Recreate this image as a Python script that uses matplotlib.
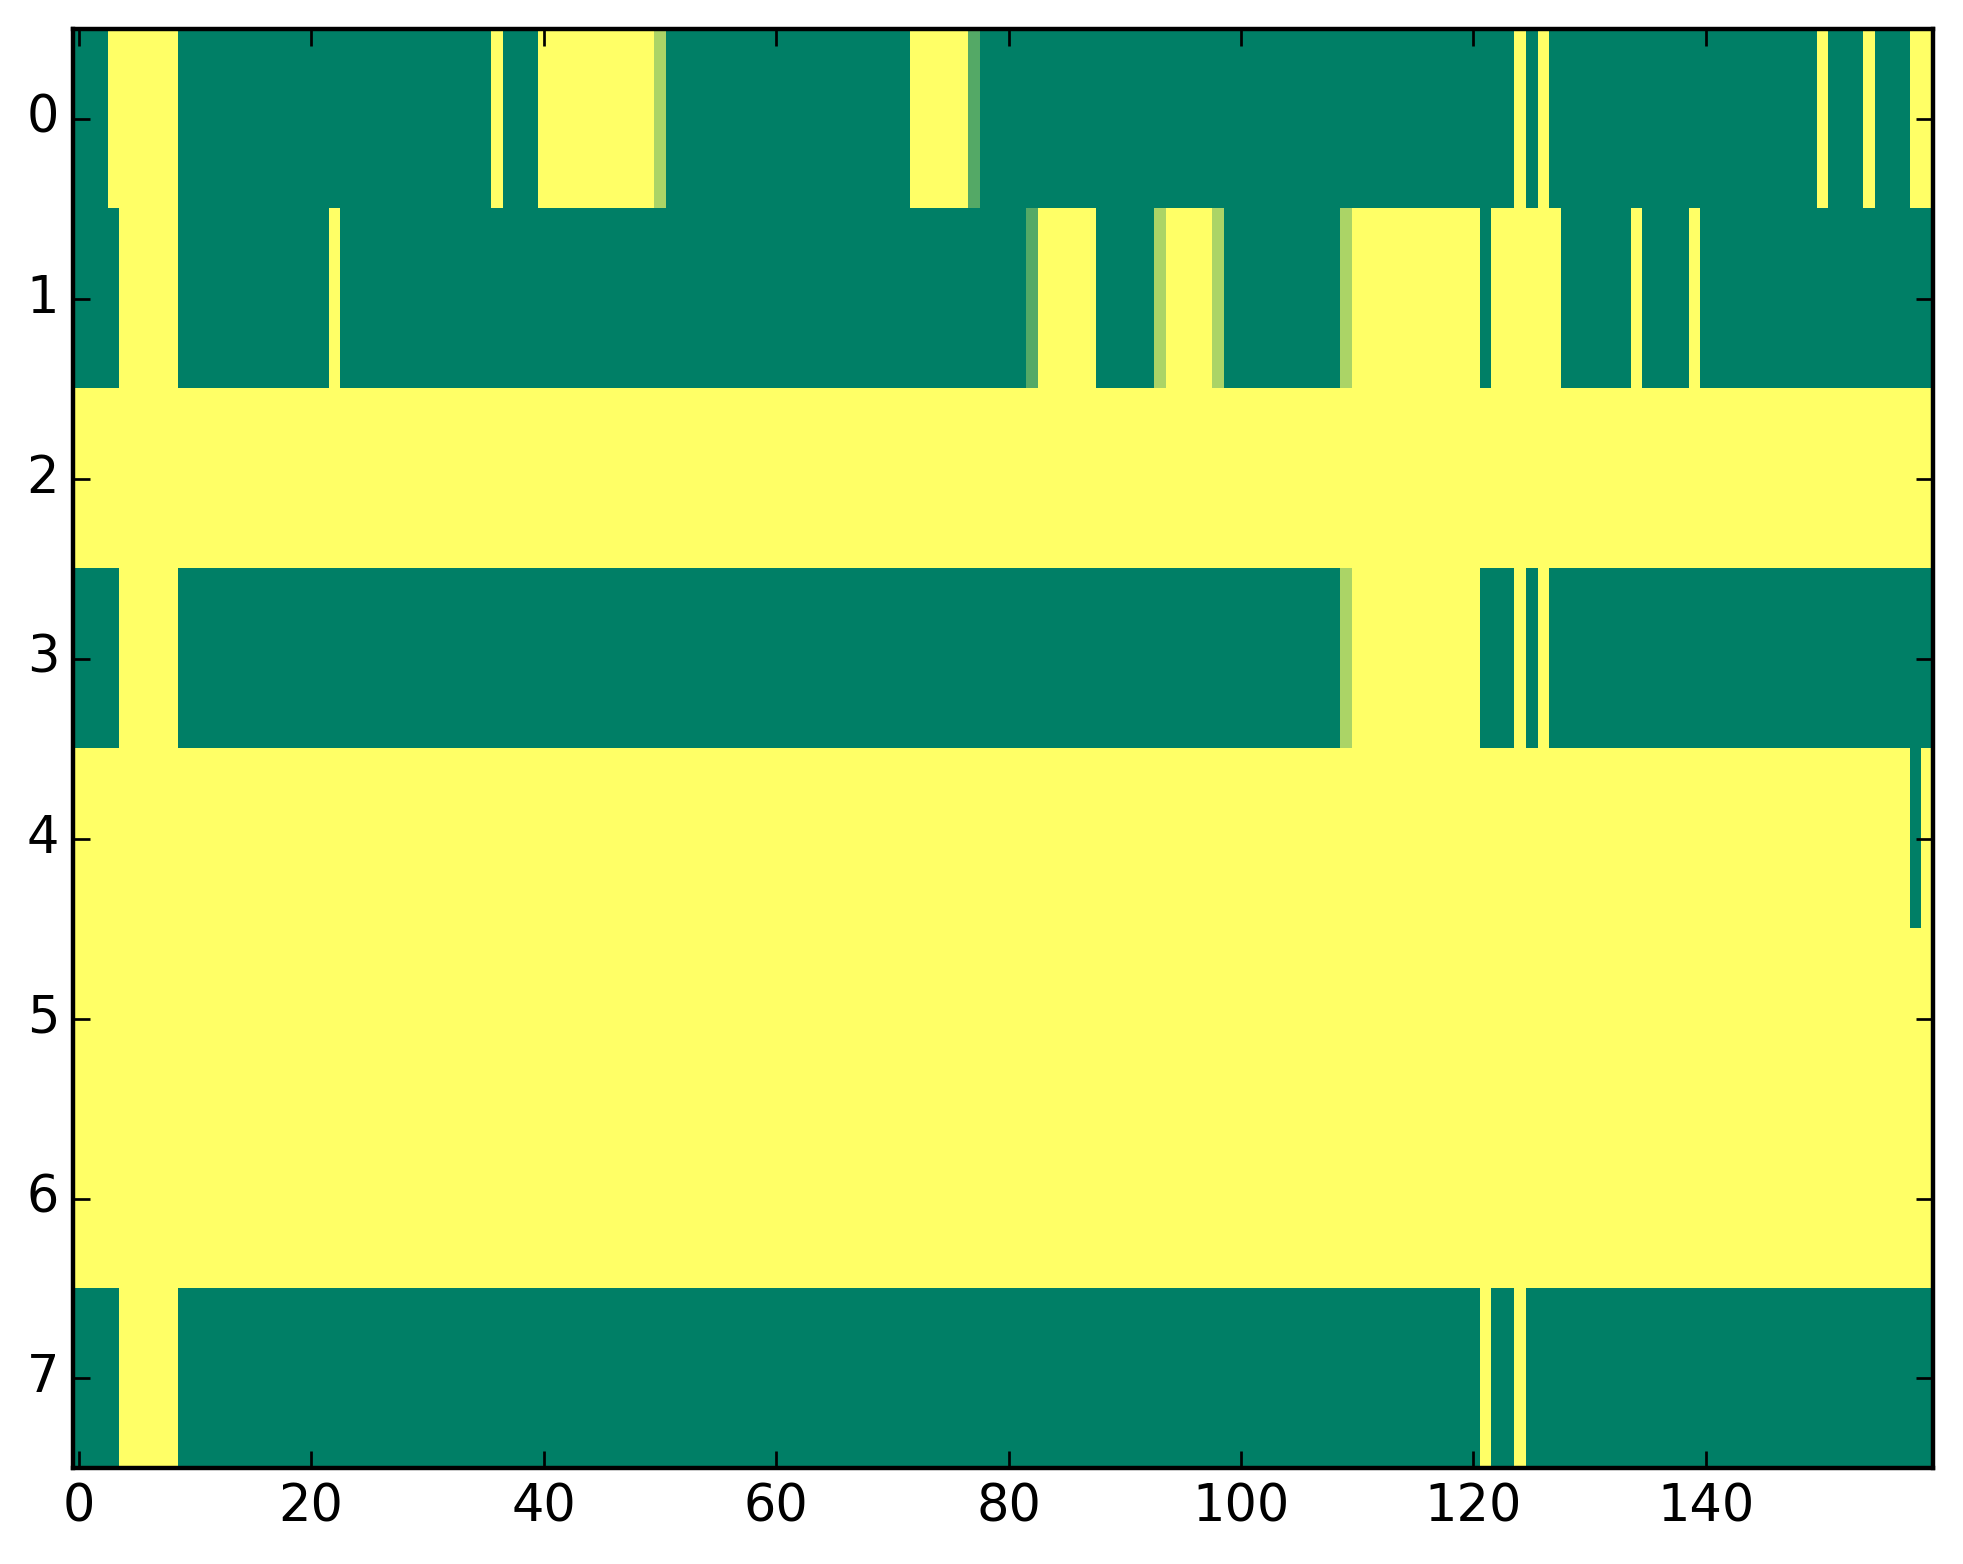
import matplotlib
matplotlib.use("Agg")
import matplotlib.pyplot as plt
import numpy as np

plt.style.use("classic")

n_cols = 160
n_rows = 8

# runs of yellow cells (value 1) for each row, inclusive (start, end)
row0_ones = [(3, 8), (36, 36), (40, 49), (72, 76), (124, 124), (126, 126),
             (150, 150), (154, 154), (158, 159)]
row1_ones = [(4, 8), (22, 22), (83, 87), (94, 97), (110, 120), (122, 127),
             (134, 134), (139, 139)]
row2_ones = [(0, 159)]
row3_ones = [(4, 8), (110, 120), (124, 124), (126, 126)]
row4_ones = [(0, 157), (159, 159)]
row5_ones = [(0, 159)]
row6_ones = [(0, 159)]
row7_ones = [(4, 8), (121, 121), (124, 124)]

# cells with in-between values: (row, col, value)
partial_cells = [(0, 50, 0.67), (0, 77, 0.33),
                 (1, 82, 0.33), (1, 93, 0.67), (1, 98, 0.67), (1, 109, 0.67),
                 (3, 109, 0.67)]

rows_ones = [row0_ones, row1_ones, row2_ones, row3_ones,
             row4_ones, row5_ones, row6_ones, row7_ones]

grid = np.zeros((n_rows, n_cols))
for r in range(n_rows):
    for a, b in rows_ones[r]:
        grid[r, a:b + 1] = 1.0
for r, c, v in partial_cells:
    grid[r, c] = v

fig = plt.figure(figsize=(1963 / 245, 1564 / 245), dpi=245)
ax = fig.add_axes([0.0371, 0.0611, 0.9474, 0.9205])
ax.imshow(grid, cmap="summer", vmin=0, vmax=1, aspect="auto",
          interpolation="nearest")
ax.set_xticks([0, 20, 40, 60, 80, 100, 120, 140])
ax.set_yticks(range(8))
ax.tick_params(labelsize=15, length=5, width=0.8)
for sp in ax.spines.values():
    sp.set_linewidth(1.3)

fig.savefig("out.png", dpi=245)
